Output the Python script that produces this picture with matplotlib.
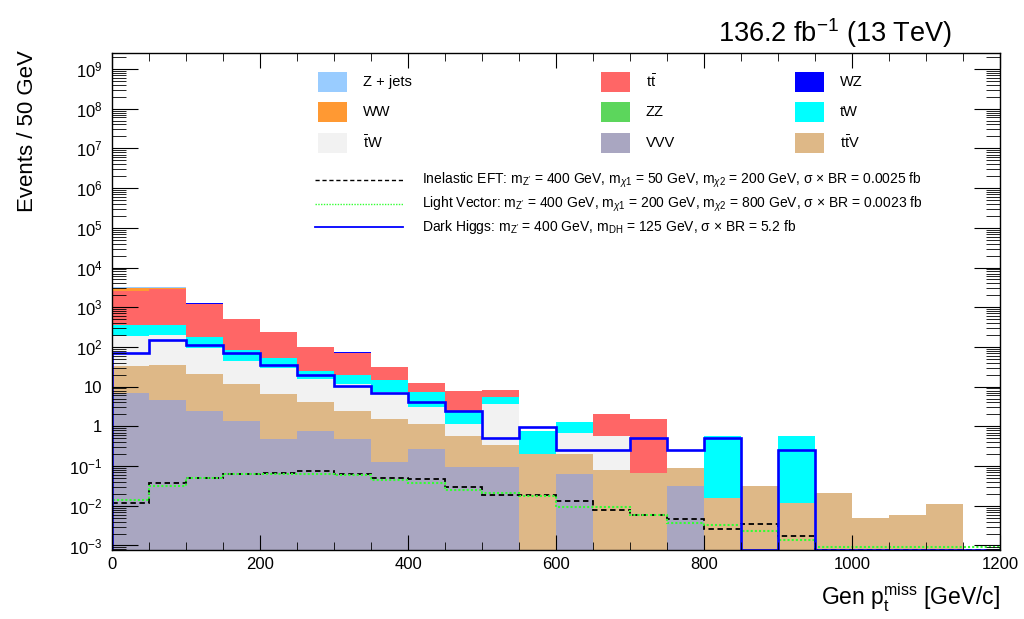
import numpy as np
import matplotlib
matplotlib.use("Agg")
import matplotlib.pyplot as plt
from matplotlib.patches import Rectangle
from matplotlib.lines import Line2D
from matplotlib.ticker import FixedLocator, FuncFormatter, MultipleLocator

plt.rcParams['font.family'] = ['Liberation Sans', 'DejaVu Sans']
plt.rcParams['mathtext.fontset'] = 'custom'
plt.rcParams['mathtext.rm'] = 'Liberation Sans'
plt.rcParams['mathtext.it'] = 'Liberation Sans:italic'
plt.rcParams['mathtext.bf'] = 'Liberation Sans:bold'

#bins de 50 GeV, 0 a 1200
edges = np.arange(0, 1250, 50)

#fundos (eventos por bin)
vvv   = [6.8, 4.6, 2.5, 1.36, 0.48, 0.75, 0.48, 0.126, 0.274, 0.097, 0.097, 0, 0.062, 0, 0, 0.031, 0, 0, 0, 0, 0, 0, 0, 0]
ttv   = [26.2, 31.4, 18.5, 10.2, 6.0, 3.35, 2.0, 1.37, 0.85, 0.49, 0.25, 0.197, 0.135, 0.079, 0.068, 0.0565, 0.0154, 0.031, 0.012, 0.0214, 0.005, 0.006, 0.011, 0]
tbarw = [154, 164, 75, 32.4, 23.5, 11.2, 8.9, 6.0, 1.94, 0.53, 3.35, 0, 0.49, 0.49, 0, 0, 0, 0, 0, 0, 0, 0, 0, 0]
tw    = [163, 162, 82, 38, 22, 9.3, 7.8, 6.9, 4.24, 1.31, 1.9, 0.56, 0.59, 0, 0, 0, 0.555, 0, 0.56, 0, 0, 0, 0, 0]
zz    = [0] * 24
ttbar = [2160, 2580, 1040, 430, 180, 73, 50, 16, 5.3, 5.37, 2.5, 0, 0, 1.43, 1.43, 0, 0, 0, 0, 0, 0, 0, 0, 0]
ww    = [480, 180, 20, 6, 5, 0, 2, 1.6, 0, 0, 0, 0, 0, 0, 0, 0, 0, 0, 0, 0, 0, 0, 0, 0]
wz    = [0, 0, 60, 0, 0, 0, 1.5, 0, 0, 0, 0, 0, 0, 0, 0, 0, 0, 0, 0, 0, 0, 0, 0, 0]
zjets = [310, 180, 5, 0, 0, 0, 0, 0, 0, 0, 0, 0, 0, 0, 0, 0, 0, 0, 0, 0, 0, 0, 0, 0]

#sinais
eft = [0.0115, 0.0367, 0.051, 0.064, 0.068, 0.074, 0.065, 0.049, 0.046, 0.030, 0.0186, 0.019,
       0.0129, 0.0078, 0.0058, 0.0047, 0.0026, 0.0035, 0.0017, 0, 0, 0, 0, 0]
lv = [0.0137, 0.0315, 0.049, 0.062, 0.065, 0.064, 0.058, 0.045, 0.037, 0.0245, 0.0214, 0.0176,
      0.0091, 0.0091, 0.0058, 0.0036, 0.0032, 0.0023, 0.0014, 0.0009, 0.0009, 0.0009, 0.0009, 0.0009]
dh = [69, 146, 109, 69, 35, 20, 10.6, 7.1, 4.1, 2.43, 0.50, 0.98, 0.25, 0.25, 0.50, 0.25, 0.50, 0,
      0.25, 0, 0, 0, 0, 0]

#ordem da pilha (de baixo pra cima)
stack = [
    ("VVV", vvv, "#a9a6c1"),
    (r"$\mathrm{t\bar{t}V}$", ttv, "#deb887"),
    (r"$\mathrm{\bar{t}W}$", tbarw, "#f2f2f2"),
    ("tW", tw, "#00ffff"),
    ("ZZ", zz, "#5cd65c"),
    (r"$\mathrm{t\bar{t}}$", ttbar, "#ff6666"),
    ("WW", ww, "#ff9933"),
    ("WZ", wz, "#0000ff"),
    ("Z + jets", zjets, "#99ccff"),
]

YMIN, YMAX = 7.7e-4, 2.6e9

fig = plt.figure(figsize=(10.24, 6.19), dpi=100)
ax = fig.add_axes([112 / 1024, 1 - 550 / 619, 888 / 1024, 497.5 / 619])
ax.set_yscale("log")

base = np.full(24, 1e-6)
for name, vals, color in stack:
    top = base + np.array(vals, dtype=float)
    ax.stairs(top, edges, baseline=base, fill=True, color=color, lw=0)
    base = top

ax.stairs(np.maximum(eft, YMIN), edges, color="black", ls=(0, (3, 2)), lw=1.3)
ax.stairs(np.maximum(lv, YMIN), edges, color="#33ff33", ls=(0, (1, 1)), lw=1.5)
ax.stairs(np.maximum(dh, YMIN), edges, color="#0000ff", lw=1.9)

ax.set_xlim(0, 1200)
ax.set_ylim(YMIN, YMAX)

#eixos estilo ROOT
ax.xaxis.set_major_locator(MultipleLocator(200))
ax.xaxis.set_minor_locator(MultipleLocator(50))
ax.yaxis.set_major_locator(FixedLocator([10.0 ** k for k in range(-3, 10)]))
ax.yaxis.set_minor_locator(FixedLocator([m * 10.0 ** k for k in range(-4, 10) for m in range(2, 10)]))


def ylab(v, pos):
    k = int(round(np.log10(v)))
    if k == 0:
        return "1"
    if k == 1:
        return "10"
    return r"$\mathrm{10^{%d}}$" % k


ax.yaxis.set_major_formatter(FuncFormatter(ylab))
ax.tick_params(axis="both", which="both", direction="in", top=True, right=True, labelsize=12)
ax.tick_params(axis="x", which="major", length=11, pad=5)
ax.tick_params(axis="x", which="minor", length=6)
ax.tick_params(axis="y", which="major", length=19, pad=7)
ax.tick_params(axis="y", which="minor", length=10)
for s in ax.spines.values():
    s.set_linewidth(1.0)


def axc(px, py):
    return ((px - 112) / 888, (550 - py) / 497.5)


#legenda dos fundos (3 colunas, preenchida por linha)
leg_order = ["Z + jets", r"$\mathrm{t\bar{t}}$", "WZ", "WW", "ZZ", "tW",
             r"$\mathrm{\bar{t}W}$", "VVV", r"$\mathrm{t\bar{t}V}$"]
colors = {n: c for n, v, c in stack}
col_x = [318, 601, 795]
row_y = [82, 112, 143]
for i, name in enumerate(leg_order):
    r, c = divmod(i, 3)
    x0, y0 = axc(col_x[c], row_y[r] + 10)
    w = 29 / 888
    h = 20 / 497.5
    ax.add_patch(Rectangle((x0, y0), w, h, transform=ax.transAxes, facecolor=colors[name],
                           edgecolor="none", clip_on=False))
    tx, ty = axc(col_x[c] + 45, row_y[r])
    ax.text(tx, ty, name, transform=ax.transAxes, fontsize=10.5, va="center", ha="left")

#legenda dos sinais
sig = [
    ("black", (0, (3, 2)), 1.0,
     r"Inelastic EFT: m$_{\mathrm{Z'}}$ = 400 GeV, m$_{\chi1}$ = 50 GeV, m$_{\chi2}$ = 200 GeV, σ × BR = 0.0025 fb"),
    ("#33ff33", (0, (1, 1)), 1.0,
     r"Light Vector: m$_{\mathrm{Z'}}$ = 400 GeV, m$_{\chi1}$ = 200 GeV, m$_{\chi2}$ = 800 GeV, σ × BR = 0.0023 fb"),
    ("#0000ff", "-", 1.3,
     r"Dark Higgs: m$_{\mathrm{Z'}}$ = 400 GeV, m$_{\mathrm{DH}}$ = 125 GeV, σ × BR = 5.2 fb"),
]
sig_y = [180, 204, 227]
for (c, ls, lw, label), py in zip(sig, sig_y):
    x1, y1 = axc(315, py)
    x2, _ = axc(403, py)
    ax.add_line(Line2D([x1, x2], [y1, y1], transform=ax.transAxes, color=c, ls=ls, lw=lw, clip_on=False))
    tx, ty = axc(422, py)
    ax.text(tx, ty, label, transform=ax.transAxes, fontsize=10, va="center", ha="left")

fig.text(952 / 1024, 1 - 42 / 619, r"136.2 fb$^{\mathrm{-1}}$ (13 TeV)", fontsize=19.5, ha="right", va="baseline")
fig.text(1000 / 1024, 1 - 606 / 619, r"Gen p$_{\mathrm{t}}^{\mathrm{miss}}$ [GeV/c]", fontsize=16.5, ha="right", va="baseline")
fig.text(28 / 1024, 1 - 50 / 619, "Events / 50 GeV", fontsize=16, rotation=90, ha="center", va="top")

fig.savefig("out.png", dpi=100)
